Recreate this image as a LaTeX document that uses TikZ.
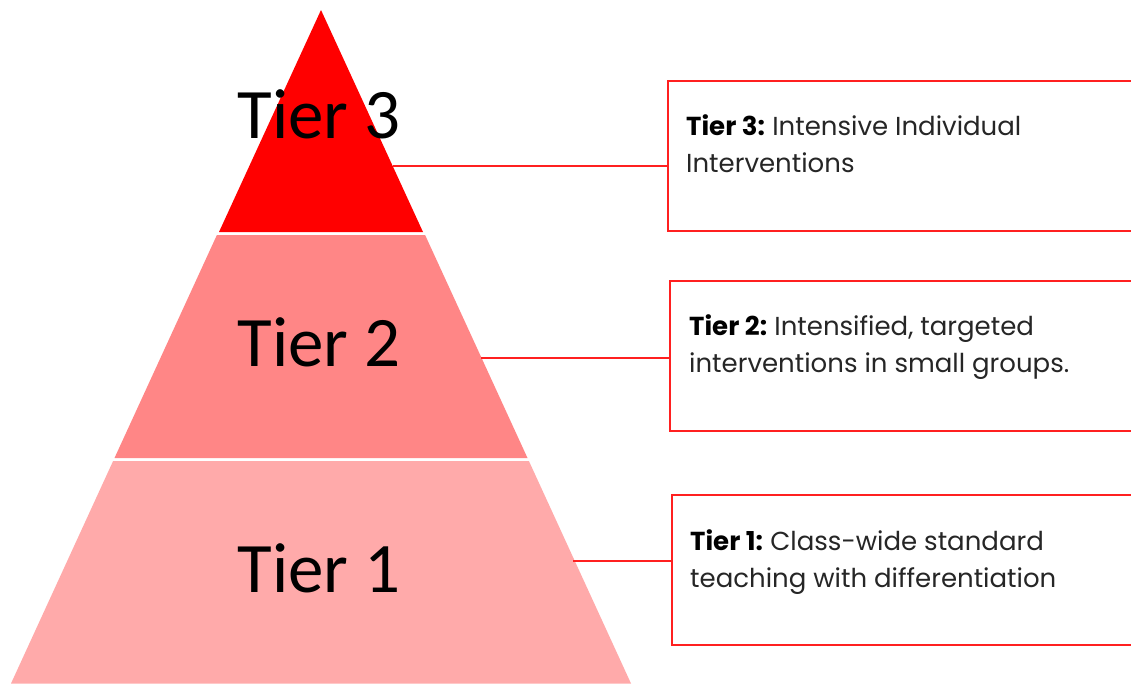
\documentclass[tikz,border=0pt]{standalone}
\usepackage{fontspec}
\setmainfont{Carlito}
\newfontfamily\boxfont{Poppins}
\definecolor{tierthree}{HTML}{FF0000}
\definecolor{tiertwo}{HTML}{FF8686}
\definecolor{tierone}{HTML}{FFAAAA}
\definecolor{boxline}{HTML}{FF2020}
\definecolor{bodytext}{HTML}{262626}
\newcommand{\tiertag}[1]{\textbf{\color{black}#1}\hspace{0.28em}}
\begin{document}
\begin{tikzpicture}[x=1pt,y=-1pt,
  tierlabel/.style={font=\fontsize{71}{71}\selectfont, anchor=base, inner sep=0pt, text=black},
  infobox/.style={draw=boxline, line width=1.8pt, minimum width=480pt, minimum height=150pt, anchor=north west, inner sep=0pt},
  infotext/.style={font=\boxfont\fontsize{26}{37}\selectfont, anchor=north west, inner sep=0pt, align=left, text=bodytext},
  link/.style={draw=boxline, line width=1.4pt}]
\useasboundingbox (0,0) rectangle (1131,683);
\clip (0,0) rectangle (1131,683);
\fill[white] (0,0) rectangle (1131,683);

% pyramid: apex (321,10), half-width grows 0.459 per unit of height
\fill[tierthree] (321,10) -- (423,232) -- (219,232) -- cycle;
\fill[tiertwo] (216.9,235) -- (425.1,235) -- (527.5,458) -- (114.5,458) -- cycle;
\fill[tierone] (113.1,461) -- (528.9,461) -- (631,683.5) -- (11,683.5) -- cycle;

\node[tierlabel] (t3) at (319,138) {Tier 3};
\node[tierlabel] (t2) at (319,366) {Tier 2};
\node[tierlabel] (t1) at (319,592) {Tier 1};

% attachment points on the right edge of the pyramid
\coordinate (e3) at (392.6,166);
\coordinate (e2) at (481,358);
\coordinate (e1) at (573,561);

\node[infobox] (b3) at (667,80) {};
\node[infobox] (b2) at (669,280) {};
\node[infobox] (b1) at (671,494) {};

\node[infotext] (d3) at (686,114) {\tiertag{Tier 3:}Intensive Individual\\Interventions};
\node[infotext] (d2) at (689,314) {\tiertag{Tier 2:}Intensified, targeted\\interventions in small groups.};
\node[infotext] (d1) at (690,529) {\tiertag{Tier 1:}Class-wide standard\\teaching with differentiation};

\draw[link] (e3) -- (e3 -| b3.west);
\draw[link] (e2) -- (e2 -| b2.west);
\draw[link] (e1) -- (e1 -| b1.west);
\end{tikzpicture}
\end{document}
